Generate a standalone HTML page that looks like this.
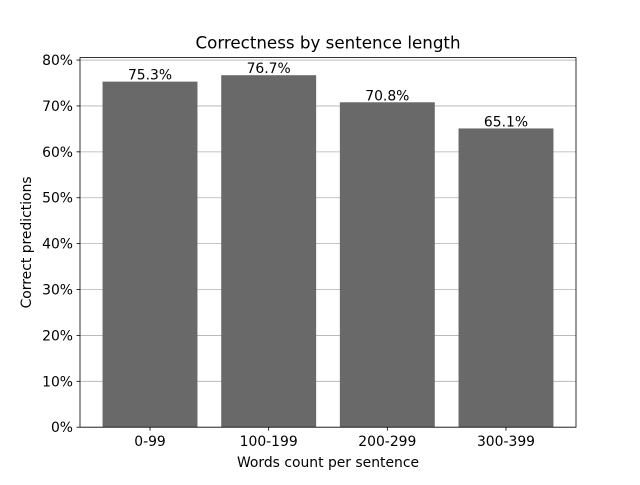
<!DOCTYPE html>
<html><head><meta charset="utf-8"><style>
body{margin:0;background:#fff;}
svg text{font-family:"DejaVu Sans","Liberation Sans",sans-serif;}
</style></head><body>
<svg id="chart" width="640" height="480" xmlns="http://www.w3.org/2000/svg"></svg>
<script>
const categories=["0-99","100-199","200-299","300-399"];
const values=[75.3,76.7,70.8,65.1];
const valueLabels=["75.3%","76.7%","70.8%","65.1%"];
const yTicks=[0,10,20,30,40,50,60,70,80];
const svg=document.getElementById('chart');
const NS='http://www.w3.org/2000/svg';
const L=80,R=576,T=57.6,B=427.2;
const ymax=Math.max(...values)*1.05;
const xmin=-0.59,xmax=categories.length-1+0.59;
const xs=v=>L+(v-xmin)/(xmax-xmin)*(R-L);
const ys=v=>B-v/ymax*(B-T);
function mk(tag,attrs,name,txt){const e=document.createElementNS(NS,tag);for(const k in attrs)e.setAttribute(k,attrs[k]);


if(txt!==undefined)e.textContent=txt;svg.appendChild(e);return e;}
yTicks.forEach(t=>{const y=ys(t);
mk('line',{x1:L,x2:R,y1:y,y2:y,stroke:'#b0b0b0','stroke-width':0.8},'y-gridline');
mk('line',{x1:L-3.5,x2:L,y1:y,y2:y,stroke:'#000','stroke-width':0.8},'y-tick');
mk('text',{x:L-7,y:y+5,'text-anchor':'end','font-size':13.9},'y-tick-label',t+'%');});
categories.forEach((c,i)=>{const x0=xs(i-0.4),x1=xs(i+0.4),y=ys(values[i]);
mk('rect',{x:x0,y:y,width:x1-x0,height:B-y,fill:'#696969'},'bar-'+c);
mk('text',{x:xs(i),y:y-2,'text-anchor':'middle','font-size':13.9},'value-label',valueLabels[i]);
mk('line',{x1:xs(i),x2:xs(i),y1:B,y2:B+3.5,stroke:'#000','stroke-width':0.8},'x-tick');
mk('text',{x:xs(i),y:B+19,'text-anchor':'middle','font-size':13.9},'x-tick-label',c);});
mk('rect',{x:L,y:T,width:R-L,height:B-T,fill:'none',stroke:'#000','stroke-width':0.8},'plot-frame');
mk('text',{x:(L+R)/2,y:T-9,'text-anchor':'middle','font-size':16.7},'chart-title','Correctness by sentence length');
mk('text',{x:(L+R)/2,y:467,'text-anchor':'middle','font-size':13.9},'x-axis-title','Words count per sentence');
mk('text',{x:31,y:(T+B)/2,'text-anchor':'middle','font-size':13.9,transform:`rotate(-90 31 ${(T+B)/2})`},'y-axis-title','Correct predictions');
</script>
</body></html>
